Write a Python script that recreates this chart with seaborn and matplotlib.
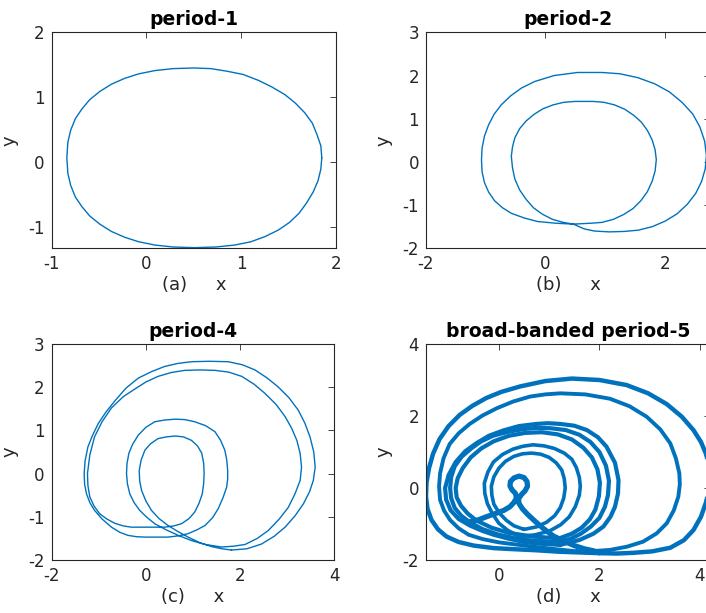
import matplotlib
matplotlib.use("Agg")
import matplotlib.pyplot as plt
import pandas as pd
import seaborn as sns

# ---------------- data ----------------
# (a) period-1
p1_x = [1.85, 1.84, 1.80, 1.75, 1.67, 1.57, 1.46, 1.32, 1.18, 1.02, 0.85, 0.68, 0.505,
        0.28, 0.09, -0.08, -0.23, -0.37, -0.49, -0.60, -0.68, -0.75, -0.80, -0.83, -0.84,
        -0.83, -0.80, -0.75, -0.68, -0.60, -0.49, -0.37, -0.23, -0.08, 0.09, 0.28, 0.505,
        0.73, 0.93, 1.10, 1.25, 1.39, 1.51, 1.61, 1.69, 1.76, 1.81, 1.84, 1.85]
p1_y = [0.065, 0.25, 0.42, 0.60, 0.76, 0.91, 1.04, 1.16, 1.26, 1.35, 1.40, 1.44, 1.45,
        1.44, 1.41, 1.36, 1.29, 1.20, 1.09, 0.96, 0.82, 0.67, 0.49, 0.30, 0.065,
        -0.17, -0.36, -0.54, -0.69, -0.83, -0.96, -1.07, -1.16, -1.23, -1.28, -1.31, -1.32,
        -1.31, -1.28, -1.23, -1.15, -1.05, -0.93, -0.79, -0.63, -0.46, -0.29, -0.11, 0.065]

# (b) period-2 : outer turn then inner turn (one closed orbit)
p2_x = [0.47, 0.18, -0.13, -0.35, -0.57, -0.72, -0.85, -0.95, -1.02, -1.06, -1.07, -1.06,
        -1.02, -0.95, -0.86, -0.74, -0.58, -0.40, -0.18, 0.15, 0.54, 0.95, 1.25, 1.55, 1.83,
        2.08, 2.29, 2.47, 2.59, 2.67, 2.70, 2.68, 2.62, 2.52, 2.38, 2.21, 2.01, 1.79, 1.56,
        1.32, 1.07, 0.82, 0.65, 0.47,
        0.30, 0.12, -0.05, -0.20, -0.32, -0.43, -0.51, -0.55, -0.57, -0.55, -0.51, -0.43,
        -0.32, -0.19, -0.04, 0.13, 0.31, 0.50, 0.80, 0.98, 1.16, 1.33, 1.48, 1.61, 1.71, 1.79,
        1.84, 1.86, 1.84, 1.79, 1.71, 1.60, 1.47, 1.31, 1.14, 0.95, 0.76, 0.47]
p2_y = [-1.44, -1.42, -1.38, -1.30, -1.19, -1.06, -0.90, -0.70, -0.48, -0.23, 0.05, 0.32,
        0.60, 0.86, 1.10, 1.32, 1.53, 1.71, 1.86, 2.00, 2.07, 2.07, 2.04, 1.95, 1.81,
        1.62, 1.38, 1.11, 0.81, 0.48, 0.15, -0.16, -0.45, -0.73, -0.98, -1.20, -1.37, -1.50,
        -1.58, -1.61, -1.62, -1.60, -1.55, -1.44,
        -1.40, -1.33, -1.21, -1.06, -0.87, -0.65, -0.40, -0.14, 0.13, 0.35, 0.56, 0.77,
        0.95, 1.10, 1.23, 1.32, 1.38, 1.40, 1.40, 1.38, 1.32, 1.22, 1.08, 0.92, 0.73, 0.51,
        0.28, 0.05, -0.21, -0.45, -0.69, -0.90, -1.08, -1.22, -1.33, -1.40, -1.42, -1.44]

# (c) period-4 : four turns A -> C -> B -> D (one closed orbit)
p4_x = [1.82, 2.15, 2.46, 2.73, 2.96, 3.17, 3.35, 3.48, 3.56, 3.60, 3.57, 3.49, 3.38, 3.24,
        3.04, 2.81, 2.57, 2.32, 2.05, 1.75, 1.36, 0.97, 0.68, 0.40, 0.12, -0.16, -0.42, -0.66,
        -0.85, -1.01, -1.13, -1.23, -1.29, -1.31, -1.30, -1.26, -1.19, -1.09, -0.93, -0.73,
        -0.55, -0.38, -0.20, -0.02, 0.22, 0.47, 0.70, 0.90, 1.09, 1.26, 1.42, 1.54, 1.64, 1.72,
        1.74, 1.74, 1.72, 1.68, 1.59, 1.47, 1.27, 1.04, 0.83, 0.62, 0.40, 0.19, 0.00, -0.16,
        -0.28, -0.36, -0.40, -0.41, -0.39, -0.34, -0.25, -0.13, 0.02, 0.19, 0.43, 0.69, 0.97,
        1.26, 1.61,
        1.87, 2.11, 2.37, 2.60, 2.83, 3.03, 3.17, 3.28, 3.31, 3.28, 3.21, 3.10, 2.96, 2.77,
        2.53, 2.30, 2.04, 1.76, 1.47, 1.15, 0.83, 0.54, 0.26, 0.00, -0.23, -0.48, -0.73, -0.93,
        -1.09, -1.19, -1.24, -1.23, -1.19, -1.10, -0.98, -0.83, -0.66, -0.48, -0.31, 0.00, 0.40,
        0.60, 0.76, 0.92, 1.04, 1.13, 1.20, 1.23, 1.24, 1.23, 1.19, 1.10, 0.97, 0.80, 0.62,
        0.44, 0.26, 0.10, -0.02, -0.10, -0.14, -0.13, -0.09, 0.00, 0.12, 0.28, 0.47, 0.68,
        0.90, 1.15, 1.40, 1.62, 1.82]
p4_y = [-1.77, -1.74, -1.63, -1.45, -1.24, -0.98, -0.70, -0.42, -0.16, 0.15, 0.50, 0.85, 1.17,
        1.47, 1.76, 2.01, 2.22, 2.40, 2.52, 2.59, 2.60, 2.59, 2.55, 2.48, 2.36, 2.21, 1.98, 1.68,
        1.42, 1.16, 0.89, 0.62, 0.30, 0.00, -0.25, -0.47, -0.67, -0.85, -1.05, -1.24,
        -1.36, -1.43, -1.46, -1.47, -1.47, -1.47, -1.44, -1.39, -1.30, -1.20, -1.02, -0.81,
        -0.56, -0.31, -0.12, 0.07, 0.32, 0.54, 0.77, 0.97, 1.11, 1.20, 1.25, 1.26, 1.24, 1.20,
        1.07, 0.89, 0.68, 0.47, 0.23, 0.00, -0.24, -0.47, -0.67, -0.85, -1.01, -1.16, -1.30,
        -1.43, -1.55, -1.64, -1.70,
        -1.68, -1.64, -1.50, -1.32, -1.06, -0.78, -0.47, -0.16, 0.15, 0.47, 0.77, 1.05, 1.32,
        1.60, 1.86, 2.07, 2.25, 2.35, 2.39, 2.40, 2.39, 2.34, 2.25, 2.12, 1.96, 1.78, 1.52,
        1.20, 0.85, 0.43, 0.00, -0.28, -0.54, -0.75, -0.93, -1.05, -1.15, -1.21, -1.24, -1.24,
        -1.24,
        -1.21, -1.16, -1.04, -0.89, -0.69, -0.47, -0.23, 0.00, 0.24, 0.47, 0.64, 0.77, 0.85,
        0.87, 0.85, 0.81, 0.69, 0.54, 0.31, 0.07, -0.17, -0.39, -0.63, -0.85, -1.04, -1.20,
        -1.34, -1.47, -1.60, -1.69, -1.74, -1.77]

# (d) broad-banded period-5 : main bands of the attractor
o1_x = [2.00, 2.35, 2.68, 3.05, 3.41, 3.68, 3.87, 4.02, 4.12, 4.18, 4.20, 4.18, 4.12, 4.02,
        3.87, 3.64, 3.34, 2.97, 2.54, 2.00, 1.45, 0.92, 0.42, 0.05, -0.25, -0.53, -0.78, -1.00,
        -1.18, -1.31, -1.39, -1.44, -1.45, -1.42, -1.34, -1.21, -1.04, -0.80, -0.50, -0.10,
        0.30, 0.75, 1.20, 1.60, 2.00]
o1_y = [-1.81, -1.82, -1.80, -1.76, -1.66, -1.45, -1.17, -0.80, -0.40, -0.05, 0.30, 0.62,
        0.95, 1.28, 1.61, 1.98, 2.33, 2.63, 2.86, 3.00, 3.04, 2.97, 2.82, 2.67, 2.50, 2.28,
        2.03, 1.72, 1.36, 0.95, 0.55, 0.15, -0.24, -0.58, -0.89, -1.15, -1.35, -1.50, -1.60,
        -1.67, -1.70, -1.73, -1.77, -1.79, -1.81]
o2_x = [1.55, 1.90, 2.21, 2.55, 2.87, 3.14, 3.34, 3.48, 3.57, 3.60, 3.59, 3.52, 3.41, 3.21,
        2.94, 2.60, 2.21, 1.72, 1.22, 0.92, 0.62, 0.28, -0.05, -0.33, -0.58, -0.80, -0.98,
        -1.10, -1.17, -1.19, -1.17, -1.09, -0.97, -0.80, -0.60, -0.32, 0.00, 0.40, 0.80, 1.20,
        1.55]
o2_y = [-1.76, -1.75, -1.72, -1.63, -1.49, -1.26, -0.98, -0.62, -0.24, 0.10, 0.41, 0.83,
        1.24, 1.63, 1.98, 2.27, 2.48, 2.60, 2.63, 2.60, 2.54, 2.40, 2.21, 2.01, 1.78, 1.52,
        1.22, 0.83, 0.41, 0.04, -0.33, -0.63, -0.89, -1.12, -1.30, -1.42, -1.51, -1.58, -1.65,
        -1.71, -1.76]
mo_x = [1.22, 1.61, 1.88, 2.08, 2.22, 2.31, 2.37, 2.38, 2.31, 2.14, 1.97, 1.75, 1.50, 1.22,
        0.98, 0.75, 0.40, 0.09, -0.20, -0.44, -0.67, -0.86, -1.00, -1.07, -1.05, -0.96, -0.80,
        -0.58, -0.33, -0.10, 0.20, 0.50, 0.85, 1.22]
mo_y = [-1.58, -1.44, -1.27, -1.07, -0.80, -0.52, -0.15, 0.22, 0.70, 1.15, 1.41, 1.61, 1.73,
        1.78, 1.80, 1.78, 1.72, 1.60, 1.45, 1.25, 1.02, 0.72, 0.36, 0.00, -0.32, -0.62, -0.86,
        -1.04, -1.19, -1.30, -1.41, -1.50, -1.55, -1.58]
mm_x = [1.20, 1.43, 1.63, 1.83, 2.00, 2.11, 2.17, 2.19, 2.13, 2.00, 1.82, 1.60, 1.33, 1.03,
        0.75, 0.50, 0.18, -0.12, -0.36, -0.55, -0.74, -0.88, -0.95, -0.97, -0.95, -0.88, -0.75,
        -0.58, -0.33, 0.00, 0.30, 0.60, 0.90, 1.20]
mm_y = [-1.50, -1.41, -1.27, -1.07, -0.83, -0.52, -0.20, 0.20, 0.62, 1.00, 1.28, 1.48, 1.61,
        1.66, 1.67, 1.64, 1.56, 1.45, 1.29, 1.10, 0.87, 0.60, 0.30, 0.00, -0.28, -0.55, -0.77,
        -0.95, -1.14, -1.30, -1.39, -1.45, -1.48, -1.50]
mi_x = [1.20, 1.45, 1.65, 1.81, 1.92, 1.99, 2.01, 1.96, 1.85, 1.68, 1.45, 1.17, 0.85, 0.52,
        0.20, -0.10, -0.35, -0.56, -0.72, -0.82, -0.86, -0.84, -0.75, -0.62, -0.45, -0.15,
        0.20, 0.70, 1.20]
mi_y = [-1.40, -1.27, -1.10, -0.87, -0.60, -0.23, 0.15, 0.52, 0.85, 1.12, 1.35, 1.49, 1.55,
        1.53, 1.45, 1.30, 1.10, 0.85, 0.55, 0.27, 0.00, -0.26, -0.50, -0.71, -0.90, -1.10,
        -1.25, -1.35, -1.40]
io_x = [0.42, 0.72, 1.00, 1.23, 1.40, 1.52, 1.60, 1.62, 1.60, 1.54, 1.45, 1.30, 1.10, 0.90,
        0.68, 0.48, 0.28, 0.07, -0.11, -0.22, -0.29, -0.28, -0.23, -0.13, 0.00, 0.18, 0.42]
io_y = [-1.35, -1.30, -1.20, -1.02, -0.80, -0.52, -0.20, 0.05, 0.30, 0.57, 0.80, 0.97, 1.10,
        1.17, 1.20, 1.16, 1.08, 0.93, 0.72, 0.44, 0.13, -0.15, -0.43, -0.71, -0.98, -1.18,
        -1.35]
ii_x = [0.50, 0.75, 0.95, 1.11, 1.22, 1.29, 1.32, 1.30, 1.25, 1.14, 1.00, 0.83, 0.65, 0.47,
        0.30, 0.13, 0.00, -0.10, -0.15, -0.14, -0.10, 0.01, 0.15, 0.30, 0.50]
ii_y = [-1.15, -1.08, -0.95, -0.77, -0.55, -0.28, 0.00, 0.26, 0.50, 0.70, 0.85, 0.94, 0.97,
        0.95, 0.88, 0.74, 0.55, 0.31, 0.05, -0.20, -0.45, -0.70, -0.90, -1.05, -1.15]
sl_x = [-0.60, -0.42, -0.25, -0.07, 0.10, 0.22, 0.30, 0.35, 0.33, 0.26, 0.22, 0.23, 0.30,
        0.40, 0.50, 0.56, 0.57, 0.52, 0.45, 0.39, 0.40, 0.47, 0.57, 0.70, 0.88, 1.08, 1.30,
        1.50, 1.70, 1.90]
sl_y = [-0.95, -0.89, -0.80, -0.71, -0.62, -0.52, -0.40, -0.28, -0.15, -0.05, 0.06, 0.18,
        0.28, 0.33, 0.29, 0.18, 0.05, -0.08, -0.18, -0.30, -0.43, -0.58, -0.73, -0.90, -1.12,
        -1.33, -1.48, -1.60, -1.69, -1.75]

titles = ["period-1", "period-2", "period-4", "broad-banded period-5"]
xlabels = ["(a)     x", "(b)     x", "(c)     x", "(d)     x"]
xticks = [[-1, 0, 1, 2], [-2, 0, 2], [-2, 0, 2, 4], [0, 2, 4]]
yticks = [[-1, 0, 1, 2], [-2, -1, 0, 1, 2, 3], [-2, -1, 0, 1, 2, 3], [-2, 0, 2, 4]]
xlims = [(-1, 2), (-2, 2.76), (-2, 4), (-1.45, 4.2)]
ylims = [(-1.33, 2), (-2, 3), (-2, 3), (-2, 4)]

# ---------------- style ----------------
sns.set_style("white")
plt.rcParams['font.family'] = ['DejaVu Sans']
plt.rcParams['axes.unicode_minus'] = False
LINE = "#0072BD"
GREY = "#262626"

W, H = 706, 613
fig = plt.figure(figsize=(W / 100, H / 100), dpi=100)

def px_axes(left, top, right, bottom):
    return fig.add_axes([left / W, 1 - bottom / H, (right - left) / W, (bottom - top) / H])

axes = [px_axes(51.7, 32.3, 336, 248.3), px_axes(426, 32.3, 710, 248.3),
        px_axes(51.7, 344, 334, 560), px_axes(426, 344, 710, 560)]

def draw(ax, xs, ys, lw):
    df = pd.DataFrame({"x": xs, "y": ys})
    sns.lineplot(data=df, x="x", y="y", sort=False, estimator=None, ax=ax,
                 color=LINE, linewidth=lw, solid_joinstyle="round")

draw(axes[0], p1_x, p1_y, 1.0)
draw(axes[1], p2_x, p2_y, 1.0)
draw(axes[2], p4_x, p4_y, 1.0)
for xs, ys, lw in [(o1_x, o1_y, 3.2), (o2_x, o2_y, 2.8), (mo_x, mo_y, 3.0),
                   (mm_x, mm_y, 3.0), (mi_x, mi_y, 3.0), (io_x, io_y, 2.6),
                   (ii_x, ii_y, 2.6), (sl_x, sl_y, 3.8)]:
    draw(axes[3], xs, ys, lw)

for i, ax in enumerate(axes):
    ax.set_xlim(*xlims[i])
    ax.set_ylim(*ylims[i])
    ax.set_xticks(xticks[i])
    ax.set_yticks(yticks[i])
    ax.set_title(titles[i], fontsize=13.5, fontweight="bold", color="black", pad=5)
    ax.set_xlabel(xlabels[i], fontsize=13, color=GREY, labelpad=2)
    ax.set_ylabel("y", fontsize=13, color=GREY, labelpad=7)
    ax.tick_params(direction="in", top=True, right=True, length=4, width=0.6,
                   color=GREY, labelcolor=GREY, labelsize=12, pad=5)
    for s in ax.spines.values():
        s.set_visible(True)
        s.set_color(GREY)
        s.set_linewidth(0.8)
    ax.set_facecolor("white")

fig.savefig("out.png", dpi=100)
